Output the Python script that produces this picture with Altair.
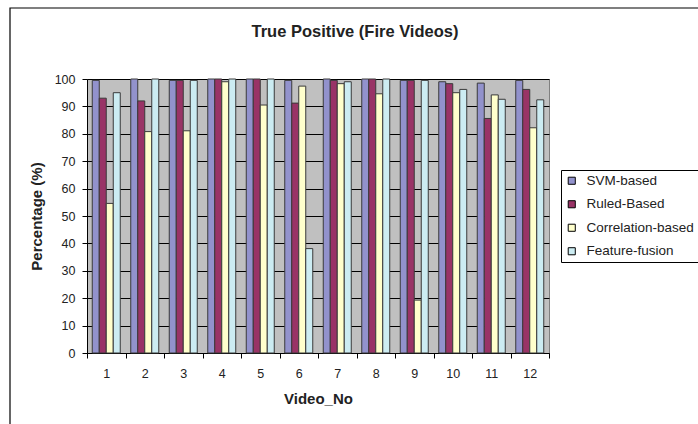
import altair as alt
import pandas as pd

# Detection results per fire video, one list per method (percent)
videos = list(range(1, 13))
methods = ["SVM-based", "Ruled-Based", "Correlation-based", "Feature-fusion"]
svm_based = [99.5, 100, 99.5, 100, 100, 99.5, 100, 100, 99.5, 99, 98.5, 99.5]
ruled_based = [93, 92, 99.5, 100, 100, 91.2, 99.5, 100, 99.5, 98.3, 85.6, 96.2]
correlation_based = [54.6, 80.8, 81.1, 99, 90.5, 97.4, 98.3, 94.6, 19.3, 95, 94.2, 82.2]
feature_fusion = [95, 100, 99.5, 100, 100, 38.1, 99, 100, 99.5, 96.2, 92.6, 92.4]
colors = ["#9292CC", "#993366", "#FFFFCC", "#CCECF2"]
chart_title = "True Positive (Fire Videos)"

series = [svm_based, ruled_based, correlation_based, feature_fusion]
rows = []
for m, vals in zip(methods, series):
    for v, p in zip(videos, vals):
        rows.append({"Video_No": str(v), "Method": m, "Percentage": p})
df = pd.DataFrame(rows)

FONT = "Liberation Sans"
INK = "#222222"
W, H = 462, 274
LEFT, TOP = 87, 79
RIGHT, BOTTOM = 698 - LEFT - W, 424 - TOP - H

bars = alt.Chart(df).mark_bar(stroke="#3a3a3a", strokeWidth=1).encode(
    x=alt.X(
        "Video_No:N",
        sort=[str(v) for v in videos],
        scale=alt.Scale(paddingInner=0, paddingOuter=0),
        axis=alt.Axis(
            title="Video_No",
            labelAngle=0,
            tickBand="extent",
            tickSize=5,
            labelPadding=9,
            titlePadding=12,
            domainColor="black",
            tickColor="black",
            grid=False,
        ),
    ),
    xOffset=alt.XOffset(
        "Method:N",
        sort=methods,
        scale=alt.Scale(paddingInner=0, paddingOuter=0.75),
    ),
    y=alt.Y(
        "Percentage:Q",
        scale=alt.Scale(domain=[0, 100], nice=False),
        axis=alt.Axis(
            title="Percentage (%)",
            values=list(range(0, 101, 10)),
            tickSize=5,
            labelPadding=7,
            titlePadding=10,
            domainColor="black",
            tickColor="black",
            gridColor="black",
            gridOpacity=1,
            gridWidth=1,
        ),
    ),
    color=alt.Color(
        "Method:N",
        sort=methods,
        scale=alt.Scale(domain=methods, range=colors),
        legend=alt.Legend(
            title=None,
            orient="none",
            legendX=474,
            legendY=91,
            symbolType="square",
            symbolSize=50,
            symbolStrokeColor="black",
            symbolStrokeWidth=1,
            symbolOpacity=1,
            labelFontSize=13.5,
            labelColor=INK,
            labelFont=FONT,
            labelOffset=8,
            rowPadding=8.5,
            padding=4,
            strokeColor="black",
            fillColor="white",
            labelLimit=200,
        ),
    ),
)

# outer frame around the whole figure
frame = alt.Chart(pd.DataFrame({"a": [0]})).mark_rect(
    fill=None, stroke="black", strokeWidth=1.2, clip=False
).encode(
    x=alt.value(-77),
    x2=alt.value(W + 220),
    y=alt.value(-71),
    y2=alt.value(H + 120),
)

# chart heading, centred on the figure frame
heading = alt.Chart(pd.DataFrame({"t": [chart_title]})).mark_text(
    font=FONT, fontSize=16.5, fontWeight="bold", color=INK,
    align="center", baseline="middle", clip=False,
).encode(
    text="t:N",
    x=alt.value(268),
    y=alt.value(-47),
)

chart = (
    alt.layer(frame, bars, heading)
    .properties(
        width=W,
        height=H,
        padding={"left": LEFT, "top": TOP, "right": RIGHT, "bottom": BOTTOM},
        autosize=alt.AutoSizeParams(type="none"),
        background="white",
    )
    .configure_view(fill="#C0C0C0", stroke="#808080", strokeWidth=1)
    .configure_axis(
        labelFont=FONT,
        labelFontSize=12.5,
        labelColor=INK,
        titleFont=FONT,
        titleFontSize=15,
        titleFontWeight="bold",
        titleColor=INK,
    )
)

chart.save("out.html", embed_options={"renderer": "svg", "actions": False})
